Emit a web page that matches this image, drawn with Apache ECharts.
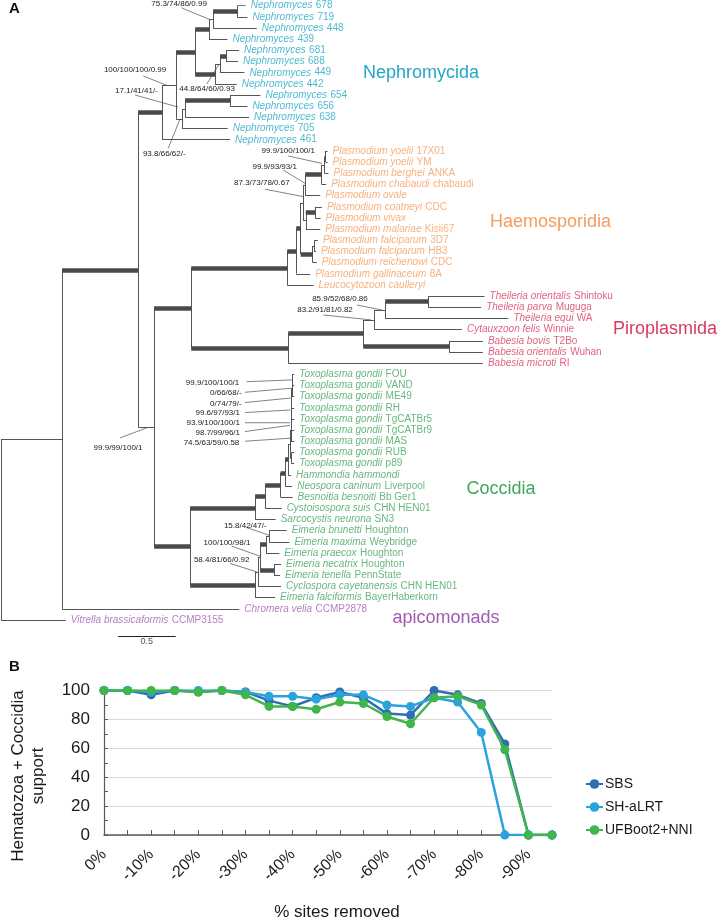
<!DOCTYPE html>
<html>
<head>
<meta charset="utf-8">
<script src="https://cdn.jsdelivr.net/npm/echarts@6/dist/echarts.min.js"></script>
<style>
html,body{margin:0;padding:0;background:#fff;}
#chart{width:719px;height:920px;}
</style>
</head>
<body>
<div id="chart"></div>
<script>
// ---------------- DATA : panel A (phylogeny, branch lengths in subst./site) ----------------
const nephNewick = "((((((Nephromyces|678:0.075,Nephromyces|719:0.089)N9:0.208,Nephromyces|448:0.379)N8:0.035,Nephromyces|439:0.159)N6:0.121,(((Nephromyces|681:0.113,Nephromyces|688:0.104)N11:0.052,Nephromyces|449:0.211)N10:0.043,Nephromyces|442:0.188)N7:0.173)N2:0.165,(((Nephromyces|654:0.263,Nephromyces|656:0.150)N12:0.390,Nephromyces|638:0.555)N5:0.026,Nephromyces|705:0.396)N3:0.052)N1:0.121,Nephromyces|461:0.589)NNeph";
const haemoNewick = "((((((((Plasmodium yoelii|17X01:0.016,Plasmodium yoelii|YM:0.016)Y1:0.009,Plasmodium berghei|ANKA:0.033)Y2:0.026,Plasmodium chabaudi|chabaudi:0.039)Y3:0.143,Plasmodium ovale|:0.130)O:0.017,((Plasmodium coatneyi|CDC:0.058,Plasmodium vivax|:0.046)V:0.082,Plasmodium malariae|Kisii67:0.126)T:0.022)Q:0.022,((Plasmodium falciparum|3D7:0.032,Plasmodium falciparum|HB3:0.015)FP:0.013,Plasmodium reichenowi|CDC:0.036)F:0.104)P:0.039,Plasmodium gallinaceum|8A:0.121)L:0.078,Leucocytozoon caulleryi|:0.228)K";
const piroNewick = "(((((Theileria orientalis|Shintoku:0.488,Theileria parva|Muguga:0.459)NJ:0.373,Theileria equi|WA:1.068)NI:0.095,Cytauxzoon felis|Winnie:0.760)NG:0.095,(Babesia bovis|T2Bo:0.292,Babesia orientalis|Wuhan:0.292)NH:0.745)NF:0.650,Babesia microti|RI:1.687)NE";
const coccNewick = "(((((((((((((Toxoplasma gondii|FOU:0.018,Toxoplasma gondii|VAND:0.018)L1:0.002,Toxoplasma gondii|ME49:0.020)L2:0.002,Toxoplasma gondii|RH:0.022)L3:0.002,Toxoplasma gondii|TgCATBr5:0.024)L4:0.002,Toxoplasma gondii|TgCATBr9:0.026)L5:0.002,Toxoplasma gondii|MAS:0.028)Tup:0.008,(Toxoplasma gondii|RUB:0.024,Toxoplasma gondii|p89:0.024)TRp:0.012)Tcl:0.017,Hammondia hammondi|:0.026)S5:0.026,Neospora caninum|Liverpool:0.061)S4:0.039,Besnoitia besnoiti|Bb Ger1:0.104)S3:0.134,Cystoisospora suis|CHN HEN01:0.143)S2:0.087,Sarcocystis neurona|SN3:0.178)S1:0.563,(((((Eimeria brunetti|Houghton:0.153,Eimeria maxima|Weybridge:0.176)E6:0.026,Eimeria praecox|Houghton:0.115)E4:0.052,(Eimeria necatrix|Houghton:0.061,Eimeria tenella|PennState:0.052)E5:0.121)E3:0.017,Cyclospora cayetanensis|CHN HEN01:0.199)E2:0.026,Eimeria falciformis|BayerHaberkorn:0.173)E1:0.563)NCocc";
const treeNewick = "(((" + nephNewick + ":0.208,((" + haemoNewick + ":0.832," + piroNewick + ":0.841)NHema:0.321," + coccNewick + ":0.312)NC:0.139)NB:0.659,Chromera velia|CCMP2878:1.536)NA:0.529,Vitrella brassicaformis|CCMP3155:0.561)Root;";

// clades (root node of each coloured group)
const cladeRootNodes = ['NNeph', 'K', 'NE', 'NCocc'];
const cladeNames = ['Nephromycida', 'Haemosporidia', 'Piroplasmida', 'Coccidia', 'apicomonads'];
// branches drawn thick (stem of the named node)
const thickStems = ['NB','NNeph','N2','N6','N9','N7','N11','N12','NHema','K','NE','NCocc','L','P','Y3','V','F','NF','NJ','NH','S1','S2','S3','S4','S5','E1','E4','E5'];
// support values (SH-aLRT/...), attached to nodes
const supportNodes  = ['N8','N1','N5','N10','N3','Y2','O','Q','NI','NG','NC','L1','L2','L3','L4','L5','Tup','Tcl','E6','E3','E2'];
const supportValues = ['75.3/74/86/0.99','100/100/100/0.99','17.1/41/41/-','44.8/64/60/0.93','93.8/66/62/-',
  '99.9/100/100/1','99.9/93/93/1','87.3/73/78/0.67','85.9/52/68/0.86','83.2/91/81/0.82','99.9/99/100/1',
  '99.9/100/100/1','0/66/68/-','0/74/79/-','99.6/97/93/1','93.9/100/100/1','98.7/99/96/1','74.5/63/59/0.58',
  '15.8/42/47/-','100/100/98/1','58.4/81/66/0.92'];
const scaleBarLength = 0.5;

// ---------------- DATA : panel B ----------------
const removedCategories = ['0%','-5%','-10%','-15%','-20%','-25%','-30%','-35%','-40%','-45%','-50%','-55%','-60%','-65%','-70%','-75%','-80%','-85%','-90%','-95%'];
const sbsValues   = [100,100,97,100,99,100,99,93,89,95,99,95,84,83,100,97,91,63,0,0];
const shalrtValues= [100,100,99,100,100,100,99,96,96,94,97,97,90,89,95,92,71,0,0,0];
const ufbootValues= [100,100,100,100,99,100,97,89,89,87,92,91,82,77,95,96,90,59,0,0];
const seriesNames = ['SBS','SH-aLRT','UFBoot2+NNI'];

// ---------------- STYLE / LAYOUT ----------------
const FONT = "'Liberation Sans', Arial, Helvetica, sans-serif";
const cladeColors = ['#22a7c4','#f59d5c','#d7395f','#41a55e','#a05cb4'];
const lineColors = ['#2f6db5','#2aa3dd','#3fb54b'];
// [textDx, textDy, align, leadX0, leadY0, leadX1, leadY1] relative to node (px)
const supportLayout = [
  [-34,-16.2,'center',-31.4,-11.7,-3,0],
  [-41,-15.3,'center',-32.8,-9.3,-9.4,0],
  [-48.6,-18.3,'center',-50.1,-14,-7,-2],
  [-13,24.7,'center',-13.3,19.7,-1,0],
  [-17.8,35.5,'center',-13.8,29.5,-2,0],
  [-36.4,-13.9,'center',-36.4,-8.9,-2.7,-1.4],
  [-30.5,-18.4,'center',-21.9,-15.1,-0.2,-1.8],
  [-41.4,-19.7,'center',-38.2,-13.7,0,-6.3],
  [-45.2,-11.1,'center',-28.2,-5.1,-3.2,0],
  [-49.2,-9.6,'center',-50.9,-4.9,-3.2,0],
  [-36.1,20.4,'center',-34.1,10.7,-6,0],
  [-52.9,2.8,'right',-45.5,1.8,0,0],
  [-50.3,5,'right',-47,4,-1,0],
  [-50,5.3,'right',-46.7,4.5,-1,0],
  [-51.5,4.2,'right',-46.5,4,-1,1.5],
  [-51.3,3.4,'right',-46.3,3.4,-1,3.4],
  [-51,2,'right',-46,1.2,-1,-5],
  [-50.8,-1.9,'right',-45,-3,0,-6],
  [-23.8,-10.2,'center',-22.4,-8.7,0,-1],
  [-33.1,-14.8,'center',-28.4,-11.1,0,-1],
  [-36.4,-12.5,'center',-28.1,-8.5,-1.4,0]
];
const cladeLabelPos = [[363,73.3],[490,221.7],[613,329.3],[466.5,489.3],[392.5,617.7]];
const scaleBarPos = [1.014, 56.43];

// ---------------- tree parsing / layout ----------------
function parseNewick(s){
  let i=0;
  function node(){
    const n={children:[],name:'',len:0};
    if(s[i]==='('){
      i++; n.children.push(node());
      while(s[i]===','){i++; n.children.push(node());}
      i++;
    }
    let nm='';
    while(i<s.length && !',():;'.includes(s[i])) nm+=s[i++];
    n.name=nm;
    if(s[i]===':'){i++; let num=''; while(i<s.length && !',();'.includes(s[i])) num+=s[i++]; n.len=parseFloat(num);}
    return n;
  }
  return node();
}
const root = parseNewick(treeNewick);
const nodes = {}; const leaves = []; let leafIdx = 0;
function layout(n, parentDepth, group, parent){
  n.depth = parentDepth + n.len; n.parent = parent;
  const ci = cladeRootNodes.indexOf(n.name);
  if(ci>=0) group = ci;
  n.group = group;
  if(n.children.length===0){ n.y = leafIdx++; leaves.push(n); }
  else {
    n.children.forEach(c=>layout(c, n.depth, group, n));
    n.y = (n.children[0].y + n.children[n.children.length-1].y)/2;
    nodes[n.name]=n;
  }
}
layout(root, 0, 4, null);

const thinSegs=[], thickSegs=[];
function collect(n){
  if(n.parent){
    const seg={coords:[[n.parent.depth,n.y],[n.depth,n.y]]};
    (thickStems.includes(n.name)?thickSegs:thinSegs).push(seg);
  }
  if(n.children.length){
    thinSegs.push({coords:[[n.depth,n.children[0].y],[n.depth,n.children[n.children.length-1].y]]});
    n.children.forEach(collect);
  }
}
collect(root);

const leafSeries = cladeNames.map((cn,gi)=>({
  type:'scatter', xAxisIndex:0, yAxisIndex:0, symbolSize:0, silent:true, z:5,
  data: leaves.filter(l=>l.group===gi).map(l=>{const p=l.name.split('|'); return [l.depth,l.y,p[0],p[1]||''];}),
  label:{show:true, position:'right', distance:5,
    formatter:(p)=>'{i|'+p.data[2]+'}'+(p.data[3]?' {n|'+p.data[3]+'}':''),
    rich:{i:{fontStyle:'italic',fontSize:10,fontFamily:FONT,color:cladeColors[gi]},
          n:{fontSize:10,fontFamily:FONT,color:cladeColors[gi]}}}
}));

const supportSeries = {
  type:'custom', xAxisIndex:0, yAxisIndex:0, silent:true, z:6,
  data: supportNodes.map((nm,i)=>[nodes[nm].depth, nodes[nm].y, i]),
  renderItem:(params,api)=>{
    const i=api.value(2); const p=api.coord([api.value(0),api.value(1)]); const o=supportLayout[i];
    return {type:'group', children:[
      {type:'line', shape:{x1:p[0]+o[3],y1:p[1]+o[4],x2:p[0]+o[5],y2:p[1]+o[6]}, style:{stroke:'#4d4d4d',lineWidth:0.7}},
      {type:'text', x:p[0]+o[0], y:p[1]+o[1], style:{text:supportValues[i], align:o[2], verticalAlign:'middle', fontSize:8, fontFamily:FONT, fill:'#1a1a1a'}}
    ]};
  }
};

const chart = echarts.init(document.getElementById('chart'), null, {renderer:'canvas'});
const graphic = [
  {type:'text', x:9, y:9, style:{text:'A', fontSize:15, fontWeight:'bold', fontFamily:FONT, fill:'#111', verticalAlign:'middle'}},
  {type:'text', x:9, y:667, style:{text:'B', fontSize:15, fontWeight:'bold', fontFamily:FONT, fill:'#111', verticalAlign:'middle'}},
  {type:'text', x:28, y:776, rotation:Math.PI/2, style:{text:'Hematozoa + Coccidia\nsupport', align:'center', verticalAlign:'middle', fontSize:17, lineHeight:20, fontFamily:FONT, fill:'#1a1a1a'}},
  {type:'text', x:337, y:912, style:{text:'% sites removed', align:'center', verticalAlign:'middle', fontSize:17, fontFamily:FONT, fill:'#1a1a1a'}}
].concat(cladeNames.map((cn,i)=>({type:'text', x:cladeLabelPos[i][0], y:cladeLabelPos[i][1],
  style:{text:cn, fontSize:18, fontFamily:FONT, fill:cladeColors[i], verticalAlign:'middle'}})));

const option = {
  animation:false,
  textStyle:{fontFamily:FONT},
  grid:[
    {left:1, top:5.7, width:715.48, height:647.86},
    {left:104, top:690.5, width:448, height:144.5}
  ],
  xAxis:[
    {gridIndex:0, type:'value', min:0, max:6.2, show:false},
    {gridIndex:1, type:'category', data:removedCategories, boundaryGap:false,
      axisLine:{lineStyle:{color:'#595959', width:1.5}},
      axisTick:{inside:true, length:5, interval:0, lineStyle:{color:'#595959'}},
      axisLabel:{interval:1, rotate:45, fontSize:16, color:'#1a1a1a', margin:17, fontFamily:FONT}}
  ],
  yAxis:[
    {gridIndex:0, type:'value', min:0, max:58, inverse:true, show:false},
    {gridIndex:1, type:'value', min:0, max:100, interval:20,
      axisLine:{show:true, lineStyle:{color:'#595959', width:1.2}},
      axisTick:{show:true, inside:true, length:4, lineStyle:{color:'#595959'}},
      minorTick:{show:true, splitNumber:2, length:4, lineStyle:{color:'#595959'}},
      splitLine:{lineStyle:{color:'#d9d9d9', width:1}},
      axisLabel:{fontSize:17, color:'#1a1a1a', margin:14, fontFamily:FONT}}
  ],
  legend:{data:seriesNames, orient:'vertical', left:580, top:772, itemWidth:17, itemHeight:12, itemGap:9,
    textStyle:{fontSize:14, color:'#1a1a1a', fontFamily:FONT, padding:[0,0,0,-3]}},
  graphic: graphic,
  series:[
    {type:'lines', coordinateSystem:'cartesian2d', xAxisIndex:0, yAxisIndex:0, silent:true, z:2,
      data:thinSegs, lineStyle:{color:'#555', width:1, opacity:1}},
    {type:'lines', coordinateSystem:'cartesian2d', xAxisIndex:0, yAxisIndex:0, silent:true, z:3,
      data:thickSegs, lineStyle:{color:'#4a4a4a', width:4.5, opacity:1}},
    {type:'lines', coordinateSystem:'cartesian2d', xAxisIndex:0, yAxisIndex:0, silent:true, z:3,
      data:[{coords:[[scaleBarPos[0],scaleBarPos[1]],[scaleBarPos[0]+scaleBarLength,scaleBarPos[1]]]}],
      lineStyle:{color:'#222', width:1, opacity:1}},
    {type:'scatter', xAxisIndex:0, yAxisIndex:0, symbolSize:0, silent:true,
      data:[[scaleBarPos[0]+scaleBarLength/2, scaleBarPos[1]]],
      label:{show:true, position:'bottom', distance:1, formatter:String(scaleBarLength), fontSize:9, color:'#222', fontFamily:FONT}},
    supportSeries
  ].concat(leafSeries).concat([sbsValues, shalrtValues, ufbootValues].map((vals,k)=>({
    type:'line', name:seriesNames[k], xAxisIndex:1, yAxisIndex:1, data:vals,
    symbol:'circle', symbolSize:9, showAllSymbol:true,
    lineStyle:{width:2.5, color:lineColors[k]}, itemStyle:{color:lineColors[k]}, z:10+k
  })))
};
chart.setOption(option);
</script>
</body>
</html>
